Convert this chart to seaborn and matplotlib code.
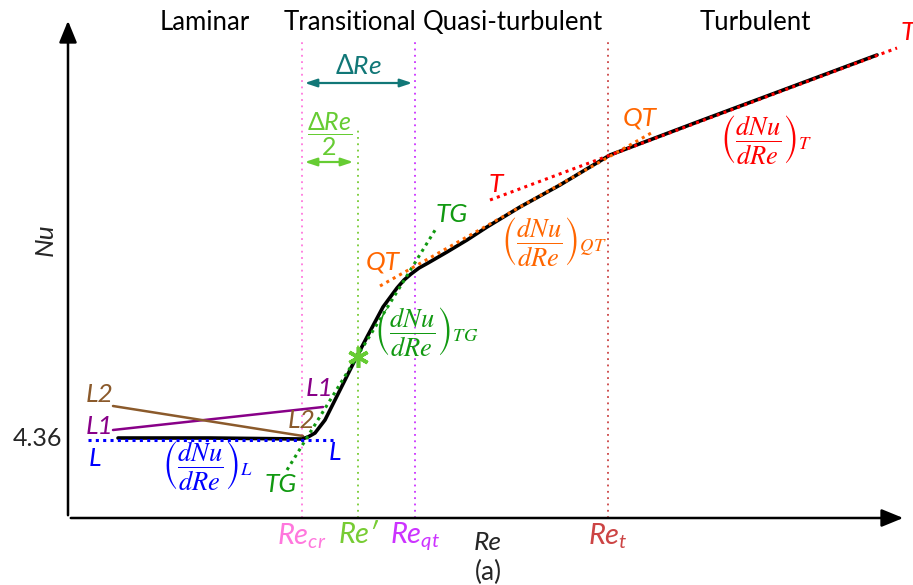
import numpy as np
import pandas as pd
import matplotlib
matplotlib.use("Agg")
import matplotlib.pyplot as plt
import seaborn as sns

# Schematic Nu-Re curve (arbitrary units, origin at the axes corner)
re_curve = [50, 142, 234, 240, 247, 257, 267, 277, 287, 299, 315, 329, 336, 343, 351, 360, 379, 399, 419, 452, 492, 542, 632, 809]
nu_curve = [80, 80, 79, 81, 85, 98, 118, 138, 158, 181, 211, 230, 238, 244, 250, 255, 266, 278, 291, 311, 333, 363, 397, 463]

# Tangent lines (start/end)
line_L = ([20, 265], [78, 78])
line_L1 = ([45, 255], [88, 111])
line_L2 = ([45, 235], [112, 82])
line_TG = ([219, 369], [48, 291])
line_QT = ([312, 585], [232, 386])
line_T = ([422, 829], [318, 470])

# Characteristic Reynolds numbers
re_cr, re_prime, re_qt, re_t = 234, 290, 347, 540
nu_lam = 80
star_re, star_nu = 290, 161

regions = ["Laminar", "Transitional", "Quasi-turbulent", "Turbulent"]
region_x = [137, 282, 445, 687]

sns.set_theme(style="white")
plt.rcParams['font.family'] = ['Lato', 'DejaVu Sans']
plt.rcParams['mathtext.fontset'] = 'custom'
plt.rcParams['mathtext.it'] = 'Lato:italic'
plt.rcParams['mathtext.rm'] = 'Lato'

fig = plt.figure(figsize=(9.13, 5.85), dpi=100)
ax = fig.add_axes([0, 0, 1, 1])
ax.set_xlim(-68, 845)
ax.set_ylim(-67, 518)
ax.axis('off')

# axes arrows
ax.annotate('', xy=(0, 500), xytext=(0, 0),
            arrowprops=dict(arrowstyle='-|>,head_length=1.1,head_width=0.45', color='black', lw=1.8))
ax.annotate('', xy=(838, 0), xytext=(0, 0),
            arrowprops=dict(arrowstyle='-|>,head_length=1.1,head_width=0.45', color='black', lw=1.8))

# vertical marker lines
ax.plot([re_cr, re_cr], [0, 478], ls=(0, (1, 2.5)), color='#ff77dd', lw=1.3)
ax.plot([re_prime, re_prime], [0, 391], ls=(0, (1, 2.5)), color='#77cc33', lw=1.3)
ax.plot([re_qt, re_qt], [0, 478], ls=(0, (1, 2.5)), color='#cc33ff', lw=1.3)
ax.plot([re_t, re_t], [0, 480], ls=(0, (1, 2.5)), color='#cc4444', lw=1.3)

# tangent / reference lines
ax.plot(*line_L1, color='#880088', lw=1.8)
ax.plot(*line_L2, color='#8b5a2b', lw=1.8)

df = pd.DataFrame({'Re': re_curve, 'Nu': nu_curve})
sns.lineplot(data=df, x='Re', y='Nu', sort=False, color='black', lw=2.6, ax=ax)

dot = (0, (1, 1.4))
ax.plot(*line_L, ls=dot, color='#0000ff', lw=2.2)
ax.plot(*line_TG, ls=dot, color='#119911', lw=2.2)
ax.plot(*line_QT, ls=dot, color='#ff6600', lw=2.2)
ax.plot(*line_T, ls=dot, color='#ff0000', lw=2.2)

ax.plot([star_re], [star_nu], marker=(6, 2, 0), ms=15, mew=2.6, color='#66cc33')

# Delta Re arrows
ax.annotate('', xy=(re_qt, 435), xytext=(re_cr, 435),
            arrowprops=dict(arrowstyle='<|-|>,head_length=0.6,head_width=0.2', color='#117777', lw=1.6))
ax.text((re_cr + re_qt) / 2, 452, r'$\Delta Re$', color='#117777', fontsize=19, ha='center', va='center')
ax.annotate('', xy=(re_prime - 2, 356), xytext=(re_cr, 356),
            arrowprops=dict(arrowstyle='<|-|>,head_length=0.6,head_width=0.2', color='#66cc33', lw=1.6))
ax.text(262, 384, r'$\dfrac{\Delta Re}{2}$', color='#66cc33', fontsize=18, ha='center', va='center')

# region labels
for name, xr in zip(regions, region_x):
    ax.text(xr, 496, name, fontsize=18.5, ha='center', va='center', color='black')

# axis labels
ax.text(-23, 278, 'Nu', fontsize=19, style='italic', rotation=90, ha='center', va='center')
ax.text(-31, nu_lam, '4.36', fontsize=18, ha='center', va='center')
ax.text(420, -25, 'Re', fontsize=19, style='italic', ha='center', va='center')
ax.text(420, -54, '(a)', fontsize=19, ha='center', va='center')

ax.text(re_cr, -18, r'$Re_{cr}$', color='#ff77dd', fontsize=21, ha='center', va='center')
ax.text(re_prime, -17, 'Re\u2032', color='#77cc33', fontsize=21, style='italic', ha='center', va='center')
ax.text(re_qt, -18, r'$Re_{qt}$', color='#cc33ff', fontsize=21, ha='center', va='center')
ax.text(re_t, -18, r'$Re_t$', color='#cc4444', fontsize=21, ha='center', va='center')

# line tags
tags = [
    ('L2', 32, 124, '#8b5a2b'), ('L1', 32, 92, '#880088'), ('L', 27, 59, '#0000ff'),
    ('L1', 252, 130, '#880088'), ('L2', 234, 98, '#8b5a2b'), ('L', 267, 65, '#0000ff'),
    ('TG', 213, 34, '#119911'), ('TG', 384, 303, '#119911'),
    ('QT', 315, 256, '#ff6600'), ('T', 428, 333, '#ff0000'),
    ('QT', 572, 400, '#ff6600'), ('T', 840, 485, '#ff0000'),
]
for txt, xx, yy, c in tags:
    ax.text(xx, yy, txt, color=c, fontsize=19, style='italic', ha='center', va='center')

frac = r'$\left(\dfrac{dNu}{dRe}\right)_{%s}$'
ax.text(140, 52, frac % 'L', color='#0000ff', fontsize=19, ha='center', va='center', math_fontfamily='stix')
ax.text(358, 186, frac % 'TG', color='#119911', fontsize=19, ha='center', va='center', math_fontfamily='stix')
ax.text(486, 276, frac % 'QT', color='#ff6600', fontsize=19, ha='center', va='center', math_fontfamily='stix')
ax.text(698, 378, frac % 'T', color='#ff0000', fontsize=19, ha='center', va='center', math_fontfamily='stix')

fig.savefig('out.png', dpi=100)
